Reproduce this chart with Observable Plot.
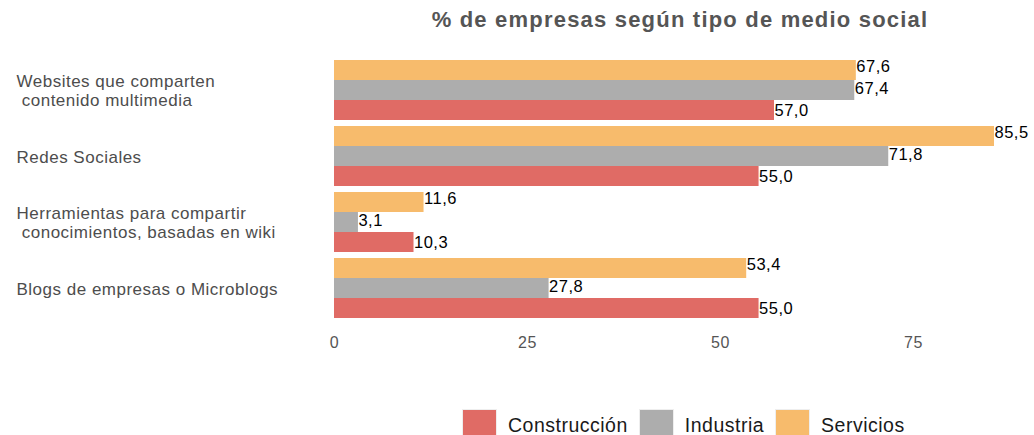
<!DOCTYPE html>
<html>
<head>
<meta charset="utf-8">
<script src="https://cdn.jsdelivr.net/npm/d3@7"></script>
<script src="https://cdn.jsdelivr.net/npm/@observablehq/plot@0.6"></script>
<style>
  html, body { margin: 0; padding: 0; background: #fff; }
  body { width: 1034px; height: 435px; overflow: hidden; font-family: "Liberation Sans", Arial, sans-serif; }
  #title { height: 40px; line-height: 40px; font-size: 22px; letter-spacing: 1.2px; font-weight: bold; color: #555; text-align: center; padding-left: 326px; box-sizing: border-box; width: 1034px; }
  #legend { display: flex; align-items: center; margin-left: 463px; margin-top: 10px; }
  .item { display: flex; align-items: center; margin-right: 12px; }
  .sw { width: 33px; height: 26px; margin-right: 12px; box-shadow: 0 0 0 1px #eee; }
  .lab { font-size: 19.5px; letter-spacing: 0.5px; color: #1a1a1a; position: relative; top: 2px; }
  svg { display: block; }
</style>
</head>
<body>
<div id="title">% de empresas según tipo de medio social</div>
<div id="chart"></div>
<div id="legend"></div>
<script>
const categories = [
  "Websites que comparten\n\u00a0contenido multimedia",
  "Redes Sociales",
  "Herramientas para compartir\n\u00a0conocimientos, basadas en wiki",
  "Blogs de empresas o Microblogs"
];
const series = ["Servicios", "Industria", "Construcción"];
const legendOrder = ["Construcción", "Industria", "Servicios"];
const colors = {"Construcción": "#e06b65", "Industria": "#adadad", "Servicios": "#f7bb6c"};
const servicios = [67.6, 85.5, 11.6, 53.4];
const industria = [67.4, 71.8, 3.1, 27.8];
const construccion = [57.0, 55.0, 10.3, 55.0];
const xTicks = [0, 25, 50, 75];

const values = {"Servicios": servicios, "Industria": industria, "Construcción": construccion};
const data = [];
categories.forEach((c, i) => series.forEach(s => data.push({cat: c, serie: s, value: values[s][i]})));
const fmt = v => v.toFixed(1).replace(".", ",");
const dyBySerie = {"Servicios": -4, "Industria": -2, "Construcción": 0};

const chart = Plot.plot({
  width: 1034,
  height: 360,
  marginLeft: 334,
  marginRight: 40,
  marginTop: 19,
  marginBottom: 82,
  style: {fontFamily: "'Liberation Sans', Arial, sans-serif", fontSize: "16px", background: "#fff", letterSpacing: "0.5px"},
  x: {domain: [0, 85.5], ticks: xTicks, tickSize: 0, tickPadding: 18, label: null},
  y: {domain: series, axis: null, padding: 0},
  fy: {domain: categories, axis: null, paddingInner: 0.095, paddingOuter: 0},
  color: {domain: Object.keys(colors), range: Object.values(colors)},
  marks: [
    Plot.barX(data, {fy: "cat", y: "serie", x: "value", fill: d => colors[d.serie]}),
    ...series.map(s => Plot.text(data.filter(d => d.serie === s), {
      fy: "cat", y: "serie", x: "value", text: d => fmt(d.value),
      textAnchor: "start", dx: 0, dy: dyBySerie[s], fill: "#000", fontSize: 16.5,
      style: {letterSpacing: "1px"}
    })),
    Plot.text(categories, {
      fy: d => d, text: d => d, frameAnchor: "left", dx: -318, textAnchor: "start",
      fill: "#4d4d4d", fontSize: 17, lineHeight: 1.12,
      style: {letterSpacing: "0.65px"}
    })
  ]
});
chart.querySelectorAll("g[aria-label='x-axis tick label']").forEach(g => g.setAttribute("fill", "#555"));
document.getElementById("chart").append(chart);

const leg = document.getElementById("legend");
legendOrder.forEach(s => {
  const it = document.createElement("div"); it.className = "item";
  const sw = document.createElement("div"); sw.className = "sw"; sw.style.background = colors[s];
  const lb = document.createElement("span"); lb.className = "lab"; lb.textContent = s;
  it.append(sw, lb); leg.append(it);
});
</script>
</body>
</html>
